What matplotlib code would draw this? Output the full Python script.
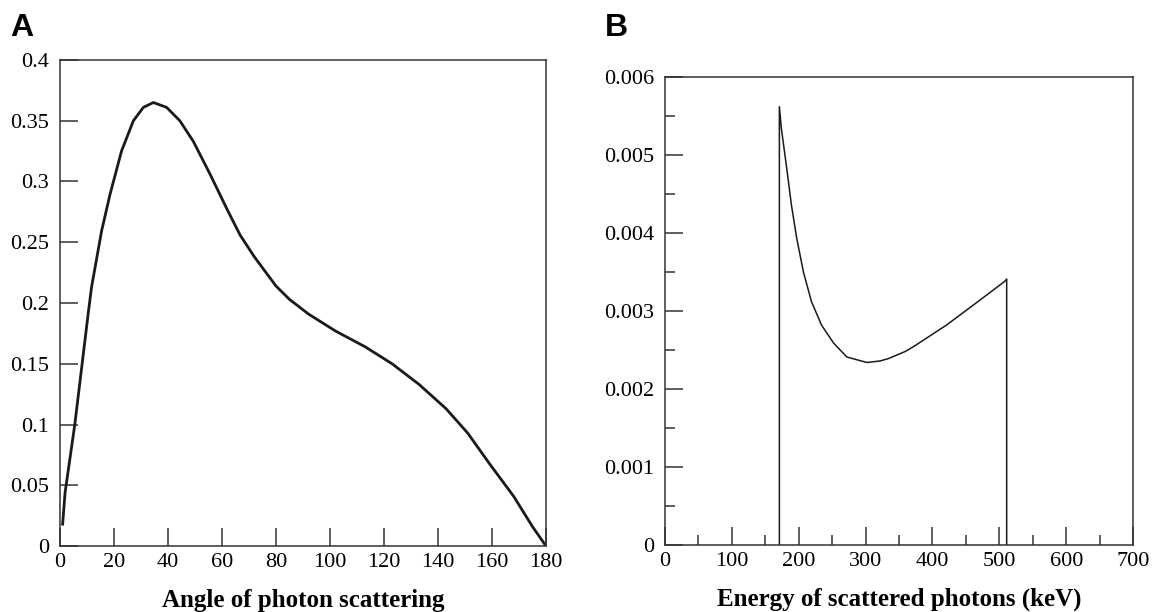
import matplotlib
matplotlib.use("Agg")
from matplotlib import pyplot as plt

# Panel A: angular distribution of scattered photons
angles = [1, 1.9, 5.5, 10.5, 11.7, 15.4, 18.5, 22.8, 27.2, 30.9, 34.6, 39.5, 44.4,
          49.4, 55.6, 61.7, 66.7, 72, 80, 85, 92, 102, 113, 123, 133, 143, 151, 159,
          168, 175, 180]
probA = [0.018, 0.044, 0.100, 0.192, 0.213, 0.259, 0.289, 0.325, 0.350, 0.361, 0.365,
         0.361, 0.350, 0.333, 0.306, 0.278, 0.256, 0.238, 0.214, 0.203, 0.191, 0.177,
         0.164, 0.150, 0.133, 0.113, 0.093, 0.068, 0.041, 0.016, 0.0]
xticksA = [0, 20, 40, 60, 80, 100, 120, 140, 160, 180]
yticksA = [0, 0.05, 0.1, 0.15, 0.2, 0.25, 0.3, 0.35, 0.4]
ylabelsA = ['0', '0.05', '0.1', '0.15', '0.2', '0.25', '0.3', '0.35', '0.4']

# Panel B: energy spectrum of scattered photons
energies = [171, 174, 182, 189, 197, 207, 219, 234, 252, 272, 302, 322, 334, 359, 371,
            421, 471, 508, 511]
probB = [0.00562, 0.00534, 0.00483, 0.00436, 0.00393, 0.00350, 0.00312, 0.00282,
         0.00259, 0.00241, 0.00234, 0.00236, 0.00239, 0.00248, 0.00254, 0.00282,
         0.00314, 0.00338, 0.00341]
xticksB = [0, 100, 200, 300, 400, 500, 600, 700]
yticksB = [0, 0.001, 0.002, 0.003, 0.004, 0.005, 0.006]
ylabelsB = ['0', '0.001', '0.002', '0.003', '0.004', '0.005', '0.006']

SERIF = ['Liberation Serif', 'DejaVu Serif']
SANS = ['Liberation Sans', 'DejaVu Sans']
SPINE = '#333333'

fig = plt.figure(figsize=(11.55, 6.12), dpi=100)
axA = fig.add_axes([0.0519, 0.1078, 0.4208, 0.7942])
axB = fig.add_axes([0.5758, 0.1095, 0.4052, 0.7646])


def style(ax):
    for s in ax.spines.values():
        s.set_color(SPINE)
        s.set_linewidth(1.1)
    ax.tick_params(which='both', direction='in', top=False, right=False,
                   color=SPINE, labelsize=16)
    ax.tick_params(axis='x', pad=5)
    ax.tick_params(axis='y', pad=8)
    ax.tick_params(which='major', length=13, width=1.1)
    ax.tick_params(which='minor', length=7, width=1.1)
    for lab in ax.get_xticklabels() + ax.get_yticklabels():
        lab.set_family(SERIF)


# Panel A
axA.plot(angles, probA, color='#1a1a1a', lw=2.0, solid_joinstyle='round')
axA.set_xlim(0, 180)
axA.set_ylim(0, 0.4)
axA.set_xticks(xticksA)
axA.set_xticklabels([str(v) for v in xticksA])
axA.set_yticks(yticksA)
axA.set_yticklabels(ylabelsA)
style(axA)
axA.set_xlabel('Angle of photon scattering', family=SERIF, fontsize=18,
               fontweight='bold', labelpad=12)

# Panel B (vertical edges at the ends of the spectrum)
xb = [energies[0]] + energies + [energies[-1]]
yb = [0] + probB + [0]
axB.plot(xb, yb, color='#1a1a1a', lw=1.1)
axB.set_xlim(0, 700)
axB.set_ylim(0, 0.006)
axB.set_xticks(xticksB)
axB.set_xticklabels([str(v) for v in xticksB])
axB.set_xticks([50, 150, 250, 350, 450, 550, 650], minor=True)
axB.set_yticks(yticksB)
axB.set_yticklabels(ylabelsB)
axB.set_yticks([0.0005, 0.0015, 0.0025, 0.0035, 0.0045, 0.0055], minor=True)
style(axB)
axB.set_xlabel('Energy of scattered photons (keV)', family=SERIF, fontsize=18,
               fontweight='bold', labelpad=12)

fig.text(0.009, 0.941, 'A', family=SANS, fontsize=23, fontweight='bold', va='baseline')
fig.text(0.524, 0.941, 'B', family=SANS, fontsize=23, fontweight='bold', va='baseline')

fig.savefig('out.png', dpi=100)
